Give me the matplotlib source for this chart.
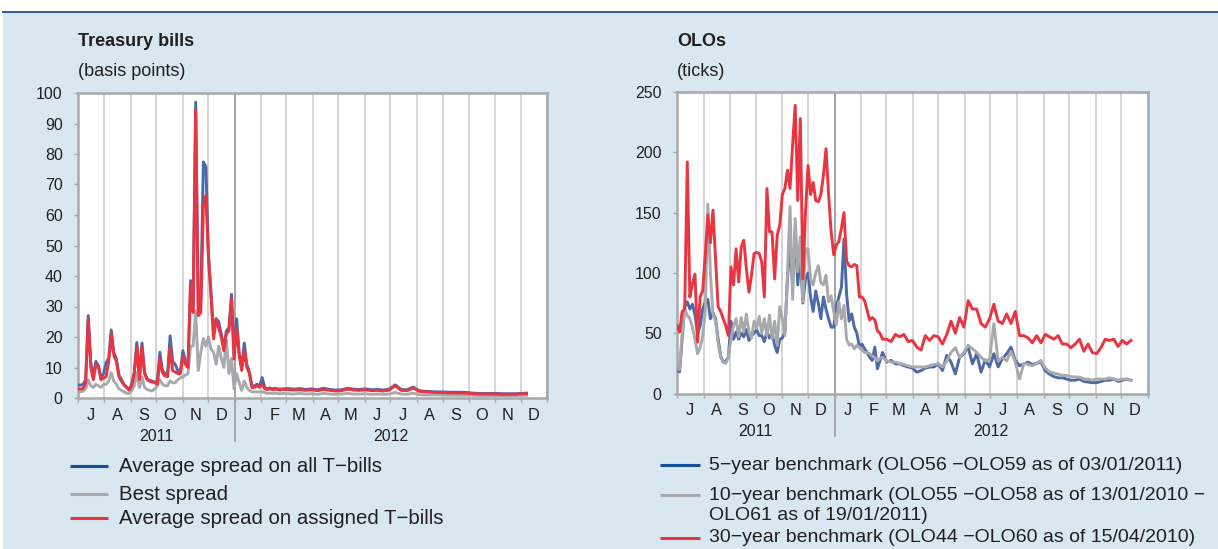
import matplotlib
matplotlib.use("Agg")
import matplotlib.pyplot as plt
import matplotlib.dates as mdates
import numpy as np
import pandas as pd
from matplotlib.lines import Line2D
from matplotlib.patches import Rectangle
from matplotlib.ticker import NullFormatter, FuncFormatter
from matplotlib.transforms import blended_transform_factory

plt.rcParams['font.family'] = ['Liberation Sans', 'DejaVu Sans']

# ---------------- data ----------------
# Treasury bills (basis points): 3-day steps Jul 2011 - Feb 2012, weekly afterwards
tb_dates = pd.date_range('2011-07-01', '2012-02-28', freq='3D').append(
    pd.date_range('2012-03-03', '2012-12-08', freq='7D'))

tb_all = [4.3, 4.2, 4.5, 6, 27, 11.6, 7, 12, 10.5, 6.5, 8, 11.6, 13, 22.3, 15, 12.8, 7.5, 6, 4.5, 3.6,
          2.8, 4.5, 8.5, 18.2, 6.5, 18, 8.5, 6.3, 5.8, 5.5, 5.3, 5, 15, 9, 8, 7.5, 20.4, 12, 11, 9,
          8.5, 15.5, 12, 10.5, 38.5, 30, 97, 30, 32, 77.4, 75.8, 47, 34.5, 21, 26, 25, 21, 16.5, 22, 23,
          34, 14, 26, 15, 10, 18, 11, 8.5, 4, 4, 4.5, 4, 6.7, 3.5, 3, 3.3, 3, 3.2, 3, 2.9,
          3,
          3.1, 2.9, 3.1, 2.8, 3.0, 2.7, 3.2, 2.8, 2.6, 2.7, 3.2, 2.9, 2.8, 3.0, 2.7, 2.8, 2.6, 2.9, 4.3, 2.8,
          2.7, 3.6, 2.4, 2.2, 2.1, 2.0, 2.0, 1.9, 1.9, 1.9, 1.8, 1.6, 1.5, 1.5, 1.5, 1.5, 1.4, 1.4, 1.4, 1.5,
          1.6]
tb_best = [1.8, 2, 2.2, 3, 6, 4, 3.5, 4.5, 4, 3.5, 4.5, 4.5, 5.5, 8.3, 5.5, 4.5, 3, 2.5, 2, 1.5,
           1.5, 2.5, 4, 8.3, 3.4, 7, 3.5, 2.8, 2.5, 2.3, 3, 4, 6, 4.5, 4, 4, 5.6, 5, 5, 6,
           6.5, 7, 7.5, 8, 17, 17, 28.6, 9, 15, 19.5, 17, 20, 16, 15, 11, 17, 13, 10, 19, 8,
           13, 3, 8, 5, 2.5, 5.5, 3.5, 2.5, 2, 2, 2, 2, 2, 1.8, 1.5, 1.6, 1.5, 1.6, 1.5, 1.4,
           1.5,
           1.4, 1.3, 1.5, 1.3, 1.4, 1.2, 1.5, 1.3, 1.2, 1.3, 1.5, 1.3, 1.3, 1.4, 1.2, 1.3, 1.2, 1.3, 1.8, 1.3,
           1.2, 1.6, 1.1, 1.0, 1.0, 1.0, 1.0, 0.9, 0.9, 0.9, 0.9, 0.9, 0.8, 0.8, 0.8, 0.8, 0.8, 0.8, 0.8, 0.9,
           0.9]
tb_assigned = [3, 2.9, 3.2, 5, 26, 10, 6, 11, 10, 6, 6.5, 7, 12, 21, 14, 12, 7, 5.5, 4.2, 3.4,
               2.6, 4, 8, 17, 6, 17, 8, 6, 5.5, 5.2, 5, 4.5, 12.8, 8.3, 7.2, 7, 16.5, 9, 8.5, 8,
               8, 13.6, 11, 10, 37, 28, 94.4, 27, 28, 62.6, 66.4, 45.7, 33.5, 19.4, 26, 23, 20, 15.5, 21, 22,
               32.5, 12.8, 23, 14, 9, 15.8, 10, 8, 3.4, 3.5, 4, 3.5, 4.5, 3, 2.8, 3, 2.7, 2.9, 2.8, 2.6,
               2.8,
               2.8, 2.6, 2.7, 2.5, 2.7, 2.4, 2.8, 2.5, 2.3, 2.4, 2.9, 2.6, 2.5, 2.7, 2.4, 2.5, 2.3, 2.6, 4.0, 2.5,
               2.4, 3.3, 2.2, 2.0, 1.9, 1.8, 1.8, 1.7, 1.7, 1.7, 1.6, 1.4, 1.3, 1.3, 1.3, 1.3, 1.2, 1.2, 1.2, 1.3,
               1.4]

# OLOs (ticks): 3-day steps Jul 2011 - Feb 2012, 5-day steps afterwards
olo_dates = pd.date_range('2011-07-01', '2012-02-28', freq='3D').append(
    pd.date_range('2012-03-02', '2012-12-12', freq='5D'))

olo_5y = [20, 18, 45, 72, 76, 70, 74, 65, 50, 56, 70, 76, 78, 62, 67, 62, 45, 31, 26, 27,
          30, 60, 45, 51, 45, 50, 47, 53, 44, 48, 50, 53, 48, 48, 43, 51, 46, 50, 40, 34,
          45, 46, 51, 95, 123, 90, 135, 90, 115, 75, 95, 100, 80, 68, 85, 75, 62, 80, 70, 62,
          55, 55, 72, 80, 88, 128, 83, 60, 66, 55, 50, 38.5, 41, 37, 34, 30, 27.4, 38.5, 20.5, 27,
          34,
          26, 27.4, 24.6, 24.6, 23, 22,
          21, 17.7, 19, 21, 22, 22,
          24.6, 19, 31.6, 26, 16.3, 30, 33,
          38.5, 24.6, 33, 17.7, 28, 22,
          33, 22, 29, 33, 38.5, 27.4,
          23, 24.6, 26, 24, 25, 26,
          19, 16, 14, 13, 13, 12,
          11, 11, 12, 10, 9.5, 9,
          9, 10, 11, 11, 12, 10,
          11, 12, 11]
olo_10y = [20.5, 20, 50, 70, 65, 62, 55, 45, 33, 38, 48, 68, 157, 100, 66, 60, 42, 30, 26, 25,
           30, 45, 56, 62, 47, 63, 51, 66, 51, 46, 60, 54, 64, 50, 62, 48, 65, 45, 60, 40,
           72, 62, 48, 100, 155, 78, 145, 101, 130, 76, 120, 120, 95, 90, 100, 106, 92, 90, 98, 76,
           81, 68, 57, 76, 62, 73, 45, 40, 41, 37, 40, 38, 36, 34, 34, 33, 31, 30, 27, 29,
           30,
           27, 26, 26, 25, 24, 23,
           22, 22, 22, 22, 23, 24,
           24.6, 22, 27, 34, 38, 30, 34,
           40, 37, 34, 30, 27, 28,
           58, 27, 30, 27, 35, 26,
           12, 25, 24, 23, 25, 27.4,
           21, 18, 17, 16, 15, 15,
           14, 13.6, 13.6, 12, 12, 11,
           12, 12, 12, 13, 12, 11,
           12, 12, 11]
olo_30y = [56.5, 51, 68, 70, 192, 80, 91, 99, 42.6, 80, 85, 115, 148, 125, 152, 112, 72, 68, 62, 56,
           48, 105, 90, 120, 92.5, 121.5, 127, 103.5, 84, 98, 116, 117, 116, 109, 80, 170, 134, 134, 95, 131,
           139.5, 165, 170, 185, 170, 206, 239, 160, 228, 95, 150, 189, 165, 175, 160, 159, 165, 181, 203, 165,
           134, 115, 123, 126, 137, 150, 110, 106, 105, 107, 106, 80, 80, 77, 69, 61, 63, 61, 52, 50,
           45,
           45, 43, 49, 47, 49, 43,
           44, 38.5, 36, 48, 44, 48,
           47, 41, 49, 60, 50, 63, 55,
           77, 70, 70, 58, 55, 62,
           74, 60, 58, 66, 58, 68,
           48, 48, 46, 42, 48, 42,
           49, 47, 45, 48, 41, 41,
           38, 41, 45, 35, 41, 34,
           33, 38, 45, 44, 45, 39,
           44, 41, 44]

month_letters = 'JFMAMJJASOND'
year_labels = ['2011', '2012']

tb_legend = ['Average spread on all T\u2212bills', 'Best spread', 'Average spread on assigned T\u2212bills']
olo_legend = ['5\u2212year benchmark (OLO56 \u2212OLO59 as of 03/01/2011)',
              '10\u2212year benchmark (OLO55 \u2212OLO58 as of 13/01/2010 \u2212',
              'OLO61 as of 19/01/2011)',
              '30\u2212year benchmark (OLO44 \u2212OLO60 as of 15/04/2010)']

# ---------------- style ----------------
W, H = 1218, 549
BG = '#d8e7f0'
SPINE = '#a9a9ab'
GRID = '#cdcdcf'
YEARLINE = '#9c9c9e'
BLUE_LINE = '#4c68a8'
BLUE_LEG = '#15509a'
GRAY = '#a8a9ac'
RED = '#ea3440'
TXT = '#231f20'

fig = plt.figure(figsize=(W / 100, H / 100), dpi=100)
fig.patch.set_facecolor('white')
fig.add_artist(Rectangle((3 / W, 0), 1 - 3 / W, 1 - 12 / H, transform=fig.transFigure,
                         facecolor=BG, edgecolor='none', zorder=-10))
fig.add_artist(Line2D([3 / W, 1], [1 - 11.5 / H] * 2, transform=fig.transFigure,
                      color='#1f4f8e', lw=1.3))


def fx(px):
    return px / W


def fy(py):
    return 1 - py / H


def style(ax, ymax, ystep):
    ax.set_facecolor('white')
    ax.set_axisbelow(True)
    ax.set_xlim(pd.Timestamp('2011-07-01'), pd.Timestamp('2013-01-01'))
    ax.set_ylim(0, ymax)
    ax.set_yticks(np.arange(0, ymax + 1, ystep))
    ax.xaxis.set_major_locator(mdates.MonthLocator())
    ax.xaxis.set_major_formatter(NullFormatter())
    ax.xaxis.set_minor_locator(mdates.MonthLocator(bymonthday=16))
    ax.xaxis.set_minor_formatter(FuncFormatter(
        lambda x, pos: month_letters[mdates.num2date(x).month - 1]))
    ax.tick_params(axis='x', which='major', length=3, color=SPINE, width=1)
    ax.tick_params(axis='x', which='minor', length=0, pad=7, labelsize=11.8, labelcolor=TXT)
    ax.tick_params(axis='y', length=3, color=SPINE, width=1, pad=8, labelsize=11.5, labelcolor=TXT)
    ax.grid(True, axis='x', which='major', color=GRID, lw=1.2)
    for s in ax.spines.values():
        s.set_color(SPINE)
        s.set_linewidth(1.8)
    yr = mdates.date2num(pd.Timestamp('2012-01-01'))
    ax.axvline(yr, color=YEARLINE, lw=1.2, zorder=1)
    trans = blended_transform_factory(ax.transData, ax.transAxes)
    ax.add_line(Line2D([yr, yr], [0, -0.14], transform=trans, color=YEARLINE, lw=1.2, clip_on=False))
    ax.text(mdates.date2num(pd.Timestamp('2011-10-01')), -0.125, year_labels[0], transform=trans,
            ha='center', va='center', fontsize=11.5, color=TXT)
    ax.text(mdates.date2num(pd.Timestamp('2012-07-02')), -0.125, year_labels[1], transform=trans,
            ha='center', va='center', fontsize=11.5, color=TXT)


# ---- Treasury bills ----
axL = fig.add_axes([fx(78), fy(398), fx(469), 305 / H])
style(axL, 100, 10)
axL.plot(tb_dates, tb_all, color=BLUE_LINE, lw=2.1, zorder=3)
axL.plot(tb_dates, tb_best, color=GRAY, lw=2.1, zorder=4)
axL.plot(tb_dates, tb_assigned, color=RED, lw=2.1, zorder=5)

fig.text(fx(78), fy(42), 'Treasury bills', fontsize=13, fontweight='bold', color=TXT, va='center', ha='left')
fig.text(fx(78), fy(72), '(basis points)', fontsize=13, color=TXT, va='center', ha='left')

# ---- OLOs ----
axR = fig.add_axes([fx(677), fy(393.5), fx(471), 301.5 / H])
style(axR, 250, 50)
axR.plot(olo_dates, olo_5y, color=BLUE_LINE, lw=2.1, zorder=3)
axR.plot(olo_dates, olo_10y, color=GRAY, lw=2.1, zorder=4)
axR.plot(olo_dates, olo_30y, color=RED, lw=2.1, zorder=5)

fig.text(fx(677), fy(42), 'OLOs', fontsize=13, fontweight='bold', color=TXT, va='center', ha='left')
fig.text(fx(677), fy(72), '(ticks)', fontsize=13, color=TXT, va='center', ha='left')

# ---- legends ----
def legend_line(x0, x1, y, color):
    fig.add_artist(Line2D([fx(x0), fx(x1)], [fy(y), fy(y)], transform=fig.transFigure,
                          color=color, lw=2.2, solid_capstyle='butt'))


for y, c, lab in zip([466, 494, 518], [BLUE_LEG, GRAY, RED], tb_legend):
    legend_line(70, 108, y, c)
    fig.text(fx(119), fy(y), lab, fontsize=14.7, color=TXT, va='center', ha='left')

legend_line(660, 700, 465, BLUE_LEG)
fig.text(fx(709), fy(465), olo_legend[0], fontsize=14, color=TXT, va='center', ha='left')
legend_line(660, 700, 495, GRAY)
fig.text(fx(709), fy(495), olo_legend[1], fontsize=14, color=TXT, va='center', ha='left')
fig.text(fx(709), fy(516), olo_legend[2], fontsize=14, color=TXT, va='center', ha='left')
legend_line(660, 700, 538, RED)
fig.text(fx(709), fy(538), olo_legend[3], fontsize=14, color=TXT, va='center', ha='left')

fig.savefig('out.png', dpi=100, facecolor=fig.get_facecolor())
